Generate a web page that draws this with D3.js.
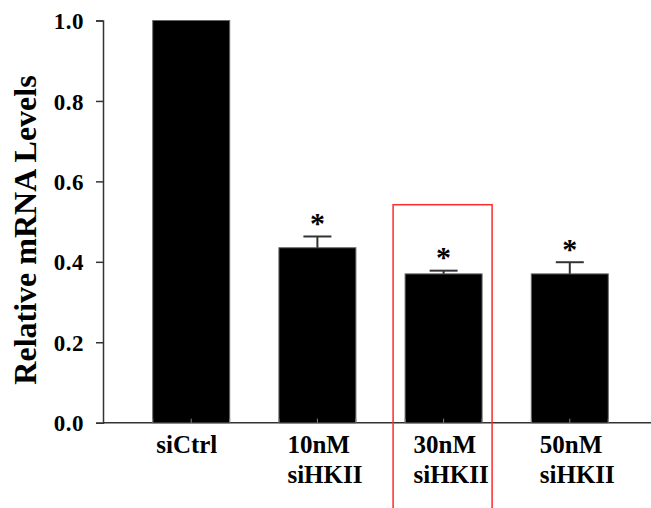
<!DOCTYPE html>
<html>
<head>
<meta charset="utf-8">
<script src="https://cdn.jsdelivr.net/npm/d3@7"></script>
<style>
  body { margin: 0; background: #fff; }
  text { font-family: "Liberation Serif", "Times New Roman", serif; font-weight: bold; fill: #000; }
</style>
</head>
<body>
<div id="chart"></div>
<script>
const categories = ["siCtrl", "10nM siHKII", "30nM siHKII", "50nM siHKII"];
const labelLines = [["siCtrl"], ["10nM", "siHKII"], ["30nM", "siHKII"], ["50nM", "siHKII"]];
const values = [1.0, 0.435, 0.370, 0.370];
const errors = [0, 0.028, 0.008, 0.029];
const significant = [false, true, true, true];
const yTicks = [0.0, 0.2, 0.4, 0.6, 0.8, 1.0];
const highlighted = "30nM siHKII";

const W = 651, H = 508;
const svg = d3.select("#chart").append("svg")
  .attr("width", W).attr("height", H);

const y = d3.scaleLinear().domain([0, 1]).range([422.7, 20.5]);
const x = d3.scaleBand()
  .domain(categories)
  .range([103, 658])
  .paddingInner(0.39)
  .paddingOuter(0.394);

// bars
svg.selectAll(".bar")
  .data(categories)
  .enter()
  .append("rect")
  .attr("x", d => x(d))
  .attr("y", (d, i) => y(values[i]))
  .attr("width", x.bandwidth())
  .attr("height", (d, i) => y(0) - y(values[i]))
  .attr("fill", "#000")
  .attr("stroke", "#666")
  .attr("stroke-width", 1);

// error bars + stars
categories.forEach((c, i) => {
  if (!errors[i]) return;
  const cx = x(c) + x.bandwidth() / 2;
  const top = y(values[i] + errors[i]);
  svg.append("line")
    .attr("x1", cx).attr("x2", cx)
    .attr("y1", y(values[i])).attr("y2", top)
    .attr("stroke", "#333").attr("stroke-width", 2);
  svg.append("line")
    .attr("x1", cx - 14).attr("x2", cx + 14)
    .attr("y1", top).attr("y2", top)
    .attr("stroke", "#333").attr("stroke-width", 2);
  if (significant[i]) {
    svg.append("text")
      .attr("x", cx).attr("y", top - 3.5)
      .attr("text-anchor", "middle")
      .attr("font-size", 30)
      .text("*");
  }
});

// y axis
const yAxis = svg.append("g")
  .attr("transform", "translate(103,0)")
  .call(d3.axisLeft(y).tickValues(yTicks).tickSize(7).tickPadding(12).tickFormat(d3.format(".1f")));
yAxis.select(".domain").attr("stroke", "#333").attr("stroke-width", 1.5);
yAxis.selectAll(".tick line").attr("stroke", "#333").attr("stroke-width", 1.5);
yAxis.selectAll(".tick text")
  .attr("font-size", 23)
  .attr("letter-spacing", 0.5)
  .attr("font-family", "Liberation Serif, Times New Roman, serif")
  .attr("font-weight", "bold")
  .attr("dy", "0.35em");

// x axis line
svg.append("line")
  .attr("x1", 103).attr("x2", W)
  .attr("y1", y(0)).attr("y2", y(0))
  .attr("stroke", "#333").attr("stroke-width", 1.5);

// small inward ticks at bar edges and centre
categories.forEach(c => {
  [0, 0.5, 1].forEach(f => {
    const tx = x(c) + f * x.bandwidth();
    svg.append("line")
      .attr("x1", tx).attr("x2", tx)
      .attr("y1", y(0)).attr("y2", y(0) - 4)
      .attr("stroke", "#888").attr("stroke-width", 1);
  });
});

// x labels
categories.forEach((c, i) => {
  const t = svg.append("text")
    .attr("y", 453)
    .attr("font-size", 25);
  labelLines[i].forEach((ln, j) => {
    t.append("tspan")
      .attr("x", x(c) + (i === 0 ? 3.5 : 8.5))
      .attr("dy", j === 0 ? 0 : 30)
      .text(ln);
  });
});

// y title
svg.append("text")
  .attr("transform", "translate(36,230) rotate(-90)")
  .attr("text-anchor", "middle")
  .attr("font-size", 32)
  .text("Relative mRNA Levels");

// highlight box
svg.append("rect")
  .attr("x", x(highlighted) - 12)
  .attr("y", y(0.542))
  .attr("width", x.bandwidth() + 22)
  .attr("height", H - y(0.542) + 10)
  .attr("fill", "none")
  .attr("stroke", "#ff2a2a")
  .attr("stroke-width", 1.5);
</script>
</body>
</html>
